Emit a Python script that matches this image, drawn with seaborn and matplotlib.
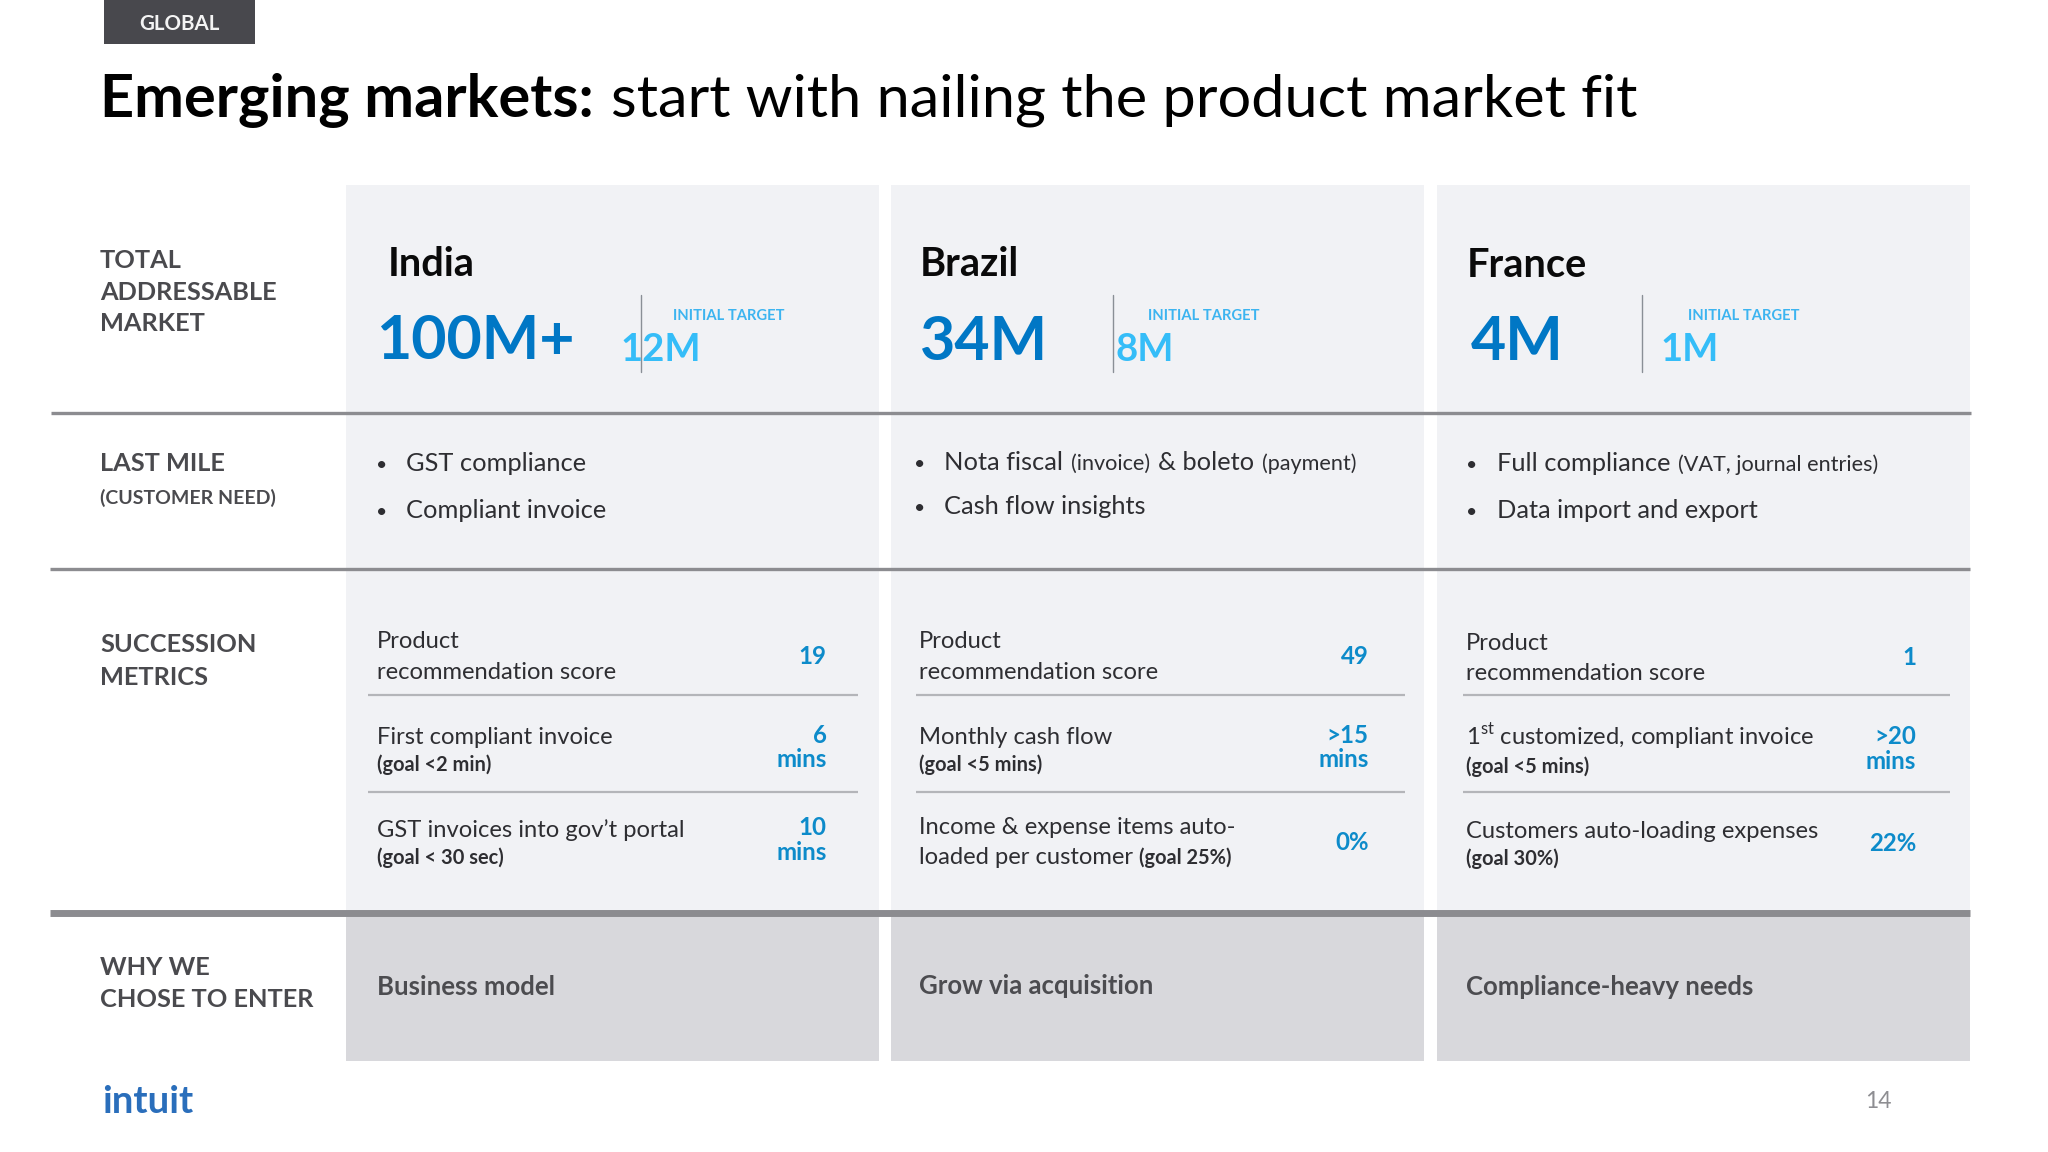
import matplotlib
matplotlib.use("Agg")
import matplotlib.pyplot as plt
from matplotlib.patches import Rectangle
import seaborn as sns

# chart values
countries = ["India", "Brazil", "France"]
market_sizes = ["100M+", "34M", "4M"]
initial_targets = ["12M", "8M", "1M"]
row_labels = [["TOTAL", "ADDRESSABLE", "MARKET"], ["LAST MILE"], ["SUCCESSION", "METRICS"], ["WHY WE", "CHOSE TO ENTER"]]
row_sublabel = "(CUSTOMER NEED)"
needs_first = [[("GST compliance", "r")],
               [("Nota fiscal", "r"), ("(invoice)", "s"), ("& boleto", "r"), ("(payment)", "s")],
               [("Full compliance", "r"), ("(VAT, journal entries)", "s")]]
needs_second = ["Compliant invoice", "Cash flow insights", "Data import and export"]
metric_top = [["Product", "First compliant invoice", "GST invoices into gov\u2019t portal"],
              ["Product", "Monthly cash flow", "Income & expense items auto-"],
              ["Product", "1$^{\\mathrm{st}}$ customized, compliant invoice", "Customers auto-loading expenses"]]
metric_bottom = [[[("recommendation score", "r")], [("(goal <2 min)", "g")], [("(goal < 30 sec)", "g")]],
                 [[("recommendation score", "r")], [("(goal <5 mins)", "g")], [("loaded per customer", "r"), ("(goal 25%)", "g")]],
                 [[("recommendation score", "r")], [("(goal <5 mins)", "g")], [("(goal 30%)", "g")]]]
metric_values = [["19", "6\nmins", "10\nmins"],
                 ["49", ">15\nmins", "0%"],
                 ["1", ">20\nmins", "22%"]]
why_enter = ["Business model", "Grow via acquisition", "Compliance-heavy needs"]

sns.set_theme(style="white")
plt.rcParams["font.family"] = ["Lato", "DejaVu Sans"]
plt.rcParams["mathtext.fontset"] = "custom"
plt.rcParams["mathtext.rm"] = "Lato"

fig, ax = plt.subplots(figsize=(20.48, 11.52), dpi=100)
fig.subplots_adjust(0, 0, 1, 1)
ax.set_xlim(0, 1568)
ax.set_ylim(882, 0)
sns.despine(ax=ax, left=True, bottom=True)
ax.set_xticks([])
ax.set_yticks([])
renderer = fig.canvas.get_renderer()

LABEL = "#4a4a4e"
BODY = "#2e2e32"
styles = {"r": (18.3, "normal", BODY), "s": (15.6, "normal", BODY), "g": (14.4, "bold", BODY)}


def put_runs(x, y, runs, gap=6):
    # draws mixed size text on one baseline
    for txt, key in runs:
        size, weight, color = styles[key]
        t = ax.text(x, y, txt, fontsize=size, fontweight=weight, color=color, va="baseline")
        x += t.get_window_extent(renderer).width * 1568 / 2048 + gap


# panels
panel_left = [265, 682, 1100]
panel_width = 408
for px in panel_left:
    ax.add_patch(Rectangle((px, 142), panel_width, 558, color="#f1f2f5", lw=0))
    ax.add_patch(Rectangle((px, 700), panel_width, 112, color="#d8d8dc", lw=0))

# header
ax.add_patch(Rectangle((80, 0), 115, 34, color="#48484d", lw=0))
ax.text(137.5, 23, "GLOBAL", color="#f4f4f4", fontsize=14.8, fontweight="bold", ha="center", va="baseline")
styles["tb"] = (42.8, "bold", "#000000")
styles["tr"] = (42.8, "normal", "#000000")
put_runs(76.5, 89.5, [("Emerging markets:", "tb"), ("start with nailing the product market fit", "tr")], gap=13)

# row rules
ax.plot([39, 1509], [316, 316], color="#8c8c90", lw=2.4, solid_capstyle="butt")
ax.plot([38, 1508], [436, 436], color="#8c8c90", lw=2.4, solid_capstyle="butt")
ax.plot([38, 1508], [699, 699], color="#8c8c90", lw=5, solid_capstyle="butt")

# row labels
row_base = [[205.5, 229.7, 253.7], [360.7], [499.5, 524.5], [746.5, 770.7]]
for lines, bases in zip(row_labels, row_base):
    for txt, yb in zip(lines, bases):
        ax.text(76.5, yb, txt, fontsize=18.3, fontweight="bold", color=LABEL, va="baseline")
ax.text(76.5, 385.5, row_sublabel, fontsize=14, fontweight="bold", color=LABEL, va="baseline")

# column content
name_x = [297, 704, 1123]
name_y = [211, 211, 212]
big_x = [288, 704, 1126]
big_y = [275, 276, 276]
sep_x = [491, 852, 1257]
target_x = [475, 854, 1271]
caption_x = [515, 879, 1292]
bullet_x = [292, 704, 1127]
need_y = [(360.7, 396.7), (359.7, 393.7), (360.7, 396.7)]
metric_x = [288.5, 703.5, 1122.5]
value_x = [632.8, 1048, 1467]
rule_x = [(282, 657), (701, 1076), (1120, 1493)]
metric_y = [[(496.5, 519.7), (569.7, 590.5), (640.7, 661.5)],
            [(496.5, 519.7), (569.7, 590.5), (638.7, 661.5)],
            [(497.5, 520.7), (570.7, 591.5), (641.7, 662.5)]]
value_y = [[508.5, 568.5, 639.5], [508.5, 568.5, 650.5], [509.5, 569.5, 651.5]]
why_y = [762, 761, 762]

for i, name in enumerate(countries):
    ax.text(name_x[i], name_y[i], name, fontsize=28.6, fontweight="bold", color="#0a0a0a", va="baseline")
    ax.text(big_x[i], big_y[i], market_sizes[i], fontsize=43.8, fontweight="bold", color="#0077c5", va="baseline")
    ax.text(target_x[i], 276.5, initial_targets[i], fontsize=27.5, fontweight="bold", color="#35bdf8", va="baseline")
    ax.text(caption_x[i], 245, "INITIAL TARGET", fontsize=10.6, fontweight="bold", color="#3cb4f0", va="baseline")
    ax.plot([sep_x[i], sep_x[i]], [226, 285], color="#8a8f96", lw=1)

    # last mile bullets
    ax.text(bullet_x[i], need_y[i][0], "\u2022", fontsize=14, color=BODY, ha="center", va="baseline")
    ax.text(bullet_x[i], need_y[i][1], "\u2022", fontsize=14, color=BODY, ha="center", va="baseline")
    put_runs(bullet_x[i] + 19, need_y[i][0], needs_first[i])
    ax.text(bullet_x[i] + 19, need_y[i][1], needs_second[i], fontsize=18.3, color=BODY, va="baseline")

    # metrics
    for j in range(3):
        ax.text(metric_x[i], metric_y[i][j][0], metric_top[i][j], fontsize=17.1, color=BODY, va="baseline")
        styles["r"] = (17.1, "normal", BODY)
        put_runs(metric_x[i], metric_y[i][j][1], metric_bottom[i][j], gap=5)
        styles["r"] = (18.3, "normal", BODY)
        parts = metric_values[i][j].split("\n")
        for k, part in enumerate(parts):
            ax.text(value_x[i], value_y[i][j] + k * 19, part, fontsize=17.3, fontweight="bold", color="#0d8bca", ha="right", va="baseline")
    for yr in (532, 606):
        ax.plot(rule_x[i], [yr, yr], color="#b4b5b9", lw=1.6, solid_capstyle="butt")

    ax.text(metric_x[i], why_y[i], why_enter[i], fontsize=18.5, fontweight="bold", color="#4c4c50", va="baseline")

# footer
ax.text(78, 852, "intuit", fontsize=27.5, fontweight="bold", color="#2a6ebb", va="baseline")
ax.text(1448, 848.5, "14", fontsize=16.5, color="#8e8e92", ha="right", va="baseline")

fig.savefig("out.png", dpi=100)
